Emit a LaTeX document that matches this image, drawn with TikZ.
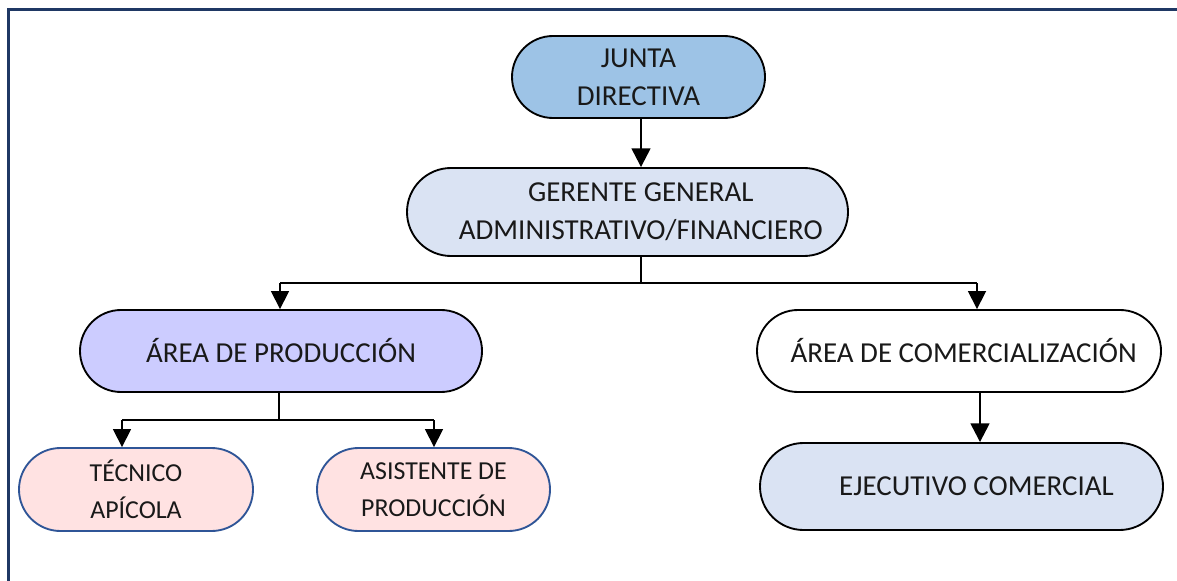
\documentclass[tikz,border=0pt]{standalone}
\usepackage{fontspec}
\setmainfont{Carlito}
\usetikzlibrary{shapes.misc,arrows.meta}
\definecolor{framec}{HTML}{1F3864}
\definecolor{juntac}{HTML}{9DC3E6}
\definecolor{gerc}{HTML}{DAE3F3}
\definecolor{prodc}{HTML}{CCCCFF}
\definecolor{pinkc}{HTML}{FFE2E2}
\definecolor{bordc}{HTML}{2F5597}
\tikzset{
  box/.style={rounded rectangle, draw=black, line width=1.4pt, inner sep=0pt, align=center,
    font=\fontsize{21.7}{28.5}\selectfont, text=black!90},
  smallbox/.style={box, draw=bordc, fill=pinkc, font=\fontsize{19.4}{28}\selectfont},
  thickarrow/.style={line width=1.8pt, -{Triangle[width=14pt,length=14pt]}},
  thinarrow/.style={line width=1.2pt, -{Triangle[width=13.5pt,length=13.5pt]}},
  bus/.style={line width=1.2pt},
  stem/.style={line width=1.1pt}
}
\begin{document}
\begin{tikzpicture}[x=0.75pt,y=-0.75pt]
\useasboundingbox (0,0) rectangle (1177,581);
\draw[framec, line width=2.4pt] (8.5,581) -- (8.5,9.5) -- (1177,9.5);
\node[box, fill=juntac, minimum width=253*0.75pt, minimum height=82*0.75pt] (junta) at (638.5,77) {JUNTA\\DIRECTIVA};
\node[box, fill=gerc, minimum width=441*0.75pt, minimum height=88*0.75pt] (ger) at (627.5,212) {\hspace*{20pt}GERENTE GENERAL\\\hspace*{20pt}ADMINISTRATIVO/FINANCIERO};
\node[box, fill=prodc, minimum width=402*0.75pt, minimum height=82*0.75pt] (prod) at (281,351) {ÁREA DE PRODUCCIÓN};
\node[box, fill=white, minimum width=404*0.75pt, minimum height=82*0.75pt] (com) at (959,351) {\hspace*{7pt}ÁREA DE COMERCIALIZACIÓN};
\node[smallbox, minimum width=234*0.75pt, minimum height=83*0.75pt] (tec) at (136,489.5) {TÉCNICO\\APÍCOLA};
\node[smallbox, minimum width=233*0.75pt, minimum height=83*0.75pt] (asi) at (433.5,489.5) {ASISTENTE DE\\PRODUCCIÓN};
\node[box, fill=gerc, minimum width=403*0.75pt, minimum height=87*0.75pt] (eje) at (961.5,486.5) {\hspace*{22.5pt}EJECUTIVO COMERCIAL};
\coordinate (gb) at (641,283);
\coordinate (gl) at (280,283);
\coordinate (gr) at (977,283);
\coordinate (pb) at (279,420);
\coordinate (pl) at (122,420);
\coordinate (pr) at (434,420);
\coordinate (cx) at (980,420);
\draw[thickarrow] (junta.south -| gb) -- (ger.north -| gb);
\draw[stem] (ger.south -| gb) -- (gb);
\draw[bus] (gl) -- (gr);
\draw[thinarrow] (gl) -- (prod.north -| gl);
\draw[thinarrow] (gr) -- (com.north -| gr);
\draw[stem] (prod.south -| pb) -- (pb);
\draw[bus] (pl) -- (pr);
\draw[thinarrow] (pl) -- (tec.north -| pl);
\draw[thinarrow] (pr) -- (asi.north -| pr);
\draw[thickarrow] (com.south -| cx) -- (eje.north -| cx);
\end{tikzpicture}
\end{document}
